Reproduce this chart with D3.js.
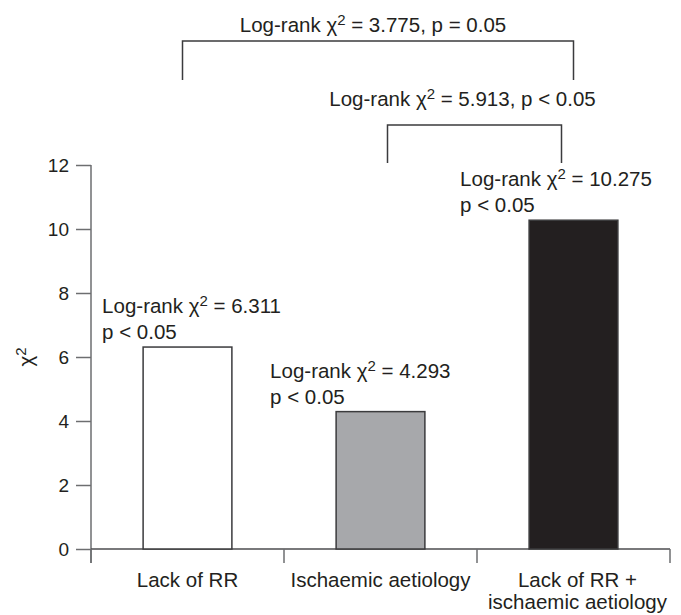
<!DOCTYPE html>
<html>
<head>
<meta charset="utf-8">
<script src="https://cdn.jsdelivr.net/npm/d3@7"></script>
<style>
  body { margin: 0; background: #fff; }
  text { font-family: "Liberation Sans", Arial, sans-serif; fill: #231f20; }
</style>
</head>
<body>
<div class="chart"></div>
<script>
// data
const categories = ["Lack of RR", "Ischaemic aetiology", "Lack of RR + ischaemic aetiology"];
const catLines = [["Lack of RR"], ["Ischaemic aetiology"], ["Lack of RR +", "ischaemic aetiology"]];
const chiValues = [6.311, 4.293, 10.275];
const pLabels = ["p < 0.05", "p < 0.05", "p < 0.05"];
const barColors = ["#ffffff", "#a7a8ab", "#231f20"];
const yTicks = [0, 2, 4, 6, 8, 10, 12];

// pairwise comparisons (brackets on top)
const cmpFrom = [0, 1];
const cmpTo = [2, 2];
const cmpChi = [3.775, 5.913];
const cmpP = ["p = 0.05", "p < 0.05"];

const width = 681, height = 615;
const margin = {top: 165, right: 11, bottom: 66, left: 91};
const fs = 20.5;

const svg = d3.select(".chart")
    .append("svg")
    .attr("width", width)
    .attr("height", height);

const xScale = d3.scaleBand()
    .domain(categories)
    .range([margin.left, width - margin.right])
    .paddingInner(0.54)
    .paddingOuter(0.27);

const yScale = d3.scaleLinear()
    .domain([0, 12])
    .range([height - margin.bottom, margin.top]);

const y0 = yScale(0);
const axisColor = "#6d6e70";

// y axis
const yAxis = d3.axisLeft(yScale)
    .tickValues(yTicks)
    .tickSize(15)
    .tickPadding(7);

const gy = svg.append("g")
    .attr("transform", `translate(${margin.left},0)`)
    .call(yAxis);
gy.select(".domain").remove();
gy.selectAll(".tick line").attr("stroke", axisColor).attr("stroke-width", 1.5);
gy.selectAll(".tick text").attr("font-size", 19).attr("font-family", "Liberation Sans, Arial, sans-serif").attr("fill", "#231f20");

svg.append("line")
    .attr("x1", margin.left).attr("x2", margin.left)
    .attr("y1", yScale(12)).attr("y2", y0 + 14)
    .attr("stroke", axisColor).attr("stroke-width", 1.5);

// x axis: baseline + ticks on band boundaries
svg.append("line")
    .attr("x1", margin.left).attr("x2", width - margin.right)
    .attr("y1", y0).attr("y2", y0)
    .attr("stroke", "#4d4d4f").attr("stroke-width", 1.5);

const bounds = d3.range(categories.length + 1).map(i => margin.left + i * (width - margin.right - margin.left) / categories.length);
svg.selectAll(".xtick")
    .data(bounds)
    .join("line")
    .attr("class", "xtick")
    .attr("x1", d => d).attr("x2", d => d)
    .attr("y1", y0).attr("y2", y0 + 14)
    .attr("stroke", axisColor).attr("stroke-width", 1.5);

// category labels
svg.selectAll(".cat")
    .data(categories)
    .join("text")
    .attr("class", "cat")
    .attr("text-anchor", "middle")
    .attr("font-size", fs)
    .attr("x", d => xScale(d) + xScale.bandwidth() / 2 + (d === categories[2] ? 4 : 0))
    .attr("y", y0 + 38)
    .selectAll("tspan")
    .data((d, i) => catLines[i])
    .join("tspan")
    .attr("x", function() { return this.parentNode.getAttribute("x"); })
    .attr("dy", (d, i) => i === 0 ? 0 : 22)
    .text(d => d);

// y axis title
svg.append("text")
    .attr("transform", `translate(33,${yScale(6)}) rotate(-90)`)
    .attr("text-anchor", "middle")
    .attr("font-size", fs)
    .call(t => {
        t.append("tspan").text("χ");
        t.append("tspan").attr("font-size", 15).attr("dy", -7).text("2");
    });

// bars
svg.selectAll(".bar")
    .data(chiValues)
    .join("rect")
    .attr("class", "bar")
    .attr("x", (d, i) => xScale(categories[i]))
    .attr("width", xScale.bandwidth())
    .attr("y", d => yScale(d))
    .attr("height", d => y0 - yScale(d))
    .attr("fill", (d, i) => barColors[i])
    .attr("stroke", "#3b3b3d")
    .attr("stroke-width", 1.5);

// chi-square label builder
function chiLabel(sel, rest) {
    sel.append("tspan").text("Log-rank ");
    sel.append("tspan").text("χ");
    sel.append("tspan").attr("font-size", 15).attr("dy", -7).text("2");
    sel.append("tspan").attr("dy", 7).text(rest);
}

// labels above bars
const labelShift = [-41, -66, -69];
chiValues.forEach((v, i) => {
    const x = xScale(categories[i]) + labelShift[i];
    const t = svg.append("text")
        .attr("x", x)
        .attr("y", yScale(v) - 34)
        .attr("font-size", fs);
    chiLabel(t, " = " + v.toFixed(3));
    svg.append("text")
        .attr("x", x)
        .attr("y", yScale(v) - 8)
        .attr("font-size", fs)
        .text(pLabels[i]);
});

// brackets
const bracketTop = [41, 125];
const bracketBottom = [80, 163];
const textGap = [9, 19];
const bracketInset = [[-5, 0], [7, -12]];
const textShift = [-5, -12];
cmpFrom.forEach((f, i) => {
    const cx = c => xScale(categories[c]) + xScale.bandwidth() / 2;
    const x1 = cx(f) + bracketInset[i][0];
    const x2 = cx(cmpTo[i]) + bracketInset[i][1];
    svg.append("path")
        .attr("d", `M${x1},${bracketBottom[i]}V${bracketTop[i]}H${x2}V${bracketBottom[i]}`)
        .attr("fill", "none")
        .attr("stroke", "#3b3b3d")
        .attr("stroke-width", 1.5);
    const t = svg.append("text")
        .attr("x", (x1 + x2) / 2 + textShift[i])
        .attr("y", bracketTop[i] - textGap[i])
        .attr("text-anchor", "middle")
        .attr("font-size", fs);
    chiLabel(t, " = " + cmpChi[i].toFixed(3) + ", " + cmpP[i]);
});
</script>
</body>
</html>
